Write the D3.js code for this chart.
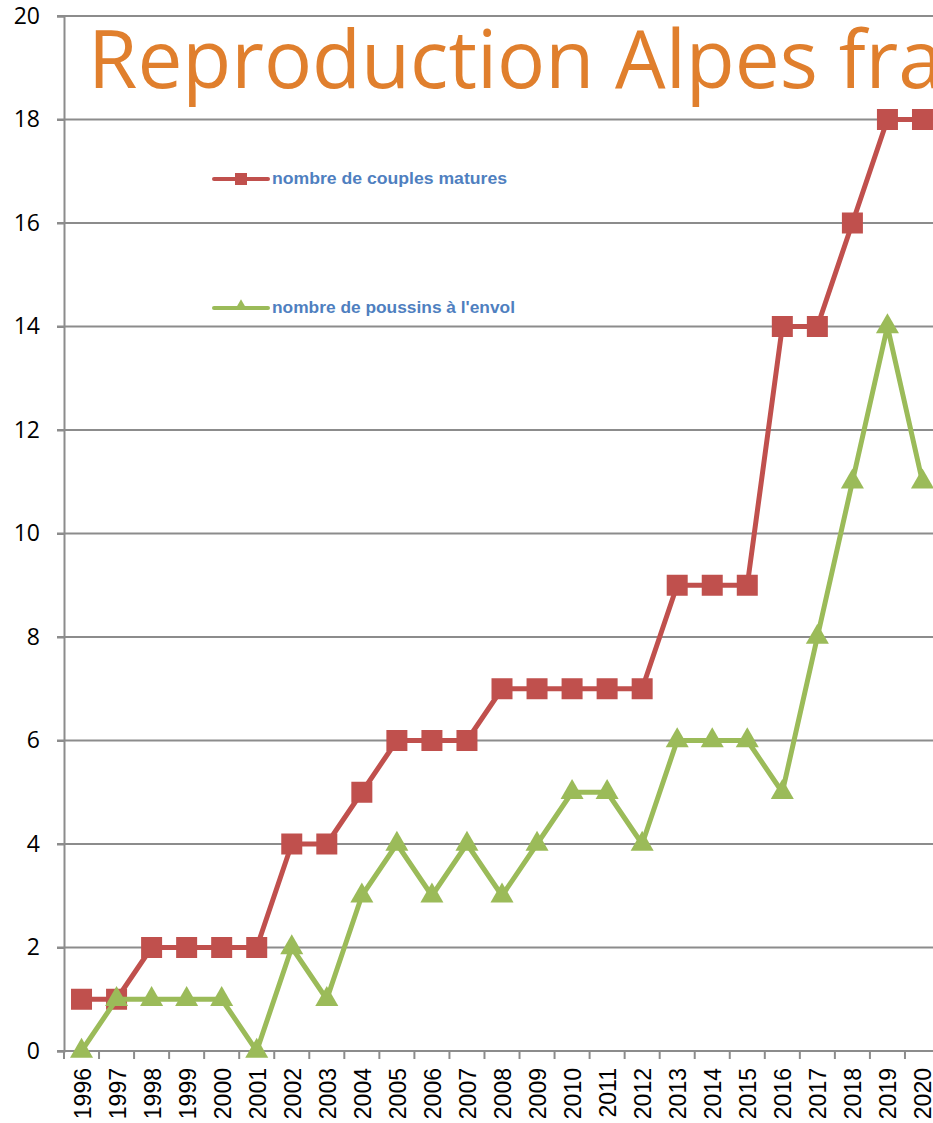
<!DOCTYPE html>
<html>
<head>
<meta charset="utf-8">
<script src="https://cdn.jsdelivr.net/npm/d3@7"></script>
<style>
  html, body { margin: 0; padding: 0; background: #fff; overflow: hidden; }
  svg { display: block; }
</style>
</head>
<body>
<svg id="chart" width="933" height="1123"></svg>
<script>
// Breeding results, French Alps
const years = ["1996","1997","1998","1999","2000","2001","2002","2003","2004","2005","2006","2007","2008",
               "2009","2010","2011","2012","2013","2014","2015","2016","2017","2018","2019","2020"];
const couples = [1,1,2,2,2,2,4,4,5,6,6,6,7,7,7,7,7,9,9,9,14,14,16,18,18];
const poussins = [0,1,1,1,1,0,2,1,3,4,3,4,3,4,5,5,4,6,6,6,5,8,11,14,11];
const yTicks = [0,2,4,6,8,10,12,14,16,18,20];
const titleText = "Reproduction Alpes françaises";
const seriesNames = ["nombre de couples matures", "nombre de poussins à l'envol"];

const svg = d3.select("#chart");
const plotLeft = 64, plotRight = 940, plotTop = 16, plotBottom = 1051;

const x = d3.scaleBand().domain(years).range([plotLeft, plotRight]).paddingInner(0).paddingOuter(0);
const y = d3.scaleLinear().domain([0, 20]).range([plotBottom, plotTop]);
const xc = d => x(d) + x.bandwidth() / 2;

// horizontal gridlines
svg.append("g").selectAll("line").data(yTicks).join("line")
  .attr("x1", plotLeft - 7).attr("x2", 933)
  .attr("y1", d => y(d)).attr("y2", d => y(d))
  .attr("stroke", "#8c8c8c").attr("stroke-width", 2);

// y axis
const yAxis = svg.append("g").attr("transform", `translate(${plotLeft},0)`)
  .call(d3.axisLeft(y).tickValues(yTicks).tickSize(7).tickPadding(17));
yAxis.select(".domain").attr("stroke", "#8c8c8c").attr("stroke-width", 2);
yAxis.selectAll(".tick line").attr("stroke", "#8c8c8c").attr("stroke-width", 2);
yAxis.selectAll("text").attr("font-family", "Open Sans, Liberation Sans, sans-serif")
  .attr("font-size", 23).attr("fill", "#000");

// x axis: ticks sit between categories
const xAxisG = svg.append("g").attr("transform", `translate(0,${plotBottom})`);
xAxisG.append("line").attr("x1", plotLeft).attr("x2", 933).attr("y1", 0).attr("y2", 0)
  .attr("stroke", "#8c8c8c").attr("stroke-width", 2);
xAxisG.selectAll("line.tk").data(years).join("line").attr("class", "tk")
  .attr("x1", d => x(d)).attr("x2", d => x(d)).attr("y1", 0).attr("y2", 8)
  .attr("stroke", "#8c8c8c").attr("stroke-width", 2);
xAxisG.selectAll("text").data(years).join("text")
  .attr("transform", d => `translate(${xc(d) + 9},${17}) rotate(-90)`)
  .attr("text-anchor", "end")
  .attr("font-family", "Liberation Sans, Arial, sans-serif")
  .attr("font-size", 23).attr("fill", "#000")
  .text(d => d);

// title
svg.append("text").attr("x", 88).attr("y", 88)
  .attr("font-family", "Open Sans, Noto Sans, sans-serif")
  .attr("font-size", 80).attr("fill", "#E07F2D")
  .text(titleText);

const red = "#C0504D", green = "#9BBB59";
const line = d3.line().x((d, i) => xc(years[i])).y(d => y(d));

// couples series
svg.append("path").datum(couples).attr("d", line)
  .attr("fill", "none").attr("stroke", red).attr("stroke-width", 5).attr("stroke-linejoin", "round");
svg.append("g").selectAll("rect").data(couples).join("rect")
  .attr("x", (d, i) => xc(years[i]) - 10.5).attr("y", d => y(d) - 10.5)
  .attr("width", 21).attr("height", 21).attr("fill", red);

// fledglings series
svg.append("path").datum(poussins).attr("d", line)
  .attr("fill", "none").attr("stroke", green).attr("stroke-width", 5).attr("stroke-linejoin", "round");
const tri = d3.symbol().type(d3.symbolTriangle).size(230);
svg.append("g").selectAll("path").data(poussins).join("path")
  .attr("transform", (d, i) => `translate(${xc(years[i])},${y(d)})`)
  .attr("d", tri).attr("fill", green);

// legend
const legend = [
  { name: seriesNames[0], color: red, marker: "square", y: 179 },
  { name: seriesNames[1], color: green, marker: "triangle", y: 308 }
];
const lg = svg.append("g");
legend.forEach(l => {
  lg.append("line").attr("x1", 214).attr("x2", 268).attr("y1", l.y).attr("y2", l.y)
    .attr("stroke", l.color).attr("stroke-width", 4).attr("stroke-linecap", "round");
  if (l.marker === "square") {
    lg.append("rect").attr("x", 235).attr("y", l.y - 6).attr("width", 12).attr("height", 12).attr("fill", l.color);
  } else {
    lg.append("path").attr("transform", `translate(241,${l.y - 2})`)
      .attr("d", d3.symbol().type(d3.symbolTriangle).size(60)).attr("fill", l.color);
  }
  lg.append("text").attr("x", 272).attr("y", l.y + 5)
    .attr("font-family", "Liberation Sans, Arial, sans-serif").attr("font-weight", "bold")
    .attr("font-size", 16).attr("fill", "#4F7FC0")
    .attr("textLength", l.marker === "square" ? 235 : 243).attr("lengthAdjust", "spacingAndGlyphs")
    .text(l.name);
});
</script>
</body>
</html>
